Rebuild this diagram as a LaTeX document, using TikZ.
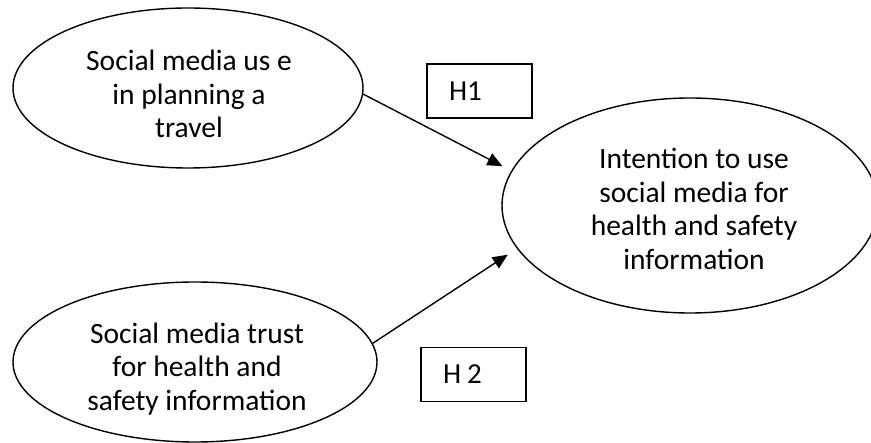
\documentclass[tikz,border=0pt]{standalone}
\usepackage{fontspec}
\setmainfont{Carlito}
\usetikzlibrary{shapes.geometric,arrows.meta}
\begin{document}
\begin{tikzpicture}[x=1pt,y=-1pt,
  line width=1.4pt,
  construct/.style={ellipse,draw,inner sep=0pt},
  caption/.style={inner sep=0pt,align=center,
    font=\fontsize{29.5}{33.5}\selectfont},
  hypbox/.style={rectangle,draw,line width=1.2pt,inner xsep=22pt,inner ysep=0pt,
    text width=61pt,minimum height=54pt,align=left,
    font=\fontsize{29}{33.5}\selectfont},
  path/.style={-{Triangle[length=15pt,width=13pt]},line width=1.4pt}]
  \useasboundingbox (0,0) rectangle (871,443);
  \clip (0,0) rectangle (871,443);

  % latent constructs
  \node[construct,minimum width=350pt,minimum height=160pt] (use) at (188,88) {};
  \node[construct,minimum width=364pt,minimum height=160pt] (trust) at (195,362) {};
  \node[construct,minimum width=376pt,minimum height=215pt] (intent) at (690,205.5) {};

  % construct names
  \node[caption] (use-txt) at (189,94) {Social media us e\\in planning a\\travel};
  \node[caption] (trust-txt) at (197,369) {Social media trust\\for health and\\safety information};
  \node[caption] (intent-txt) at (694,209) {Intention to use\\social media for\\health and safety\\information};

  % hypothesis labels
  \node[hypbox] (h1) at (479.5,91) {H1};
  \node[hypbox] (h2) at (473.5,374.5) {\spaceskip=6pt H 2};

  % hypothesised paths
  \draw[path,shorten >=10pt] (use.-2) -- (intent.169);
  \draw[path,shorten >=11pt] (trust.6) -- (intent.194);
\end{tikzpicture}
\end{document}
